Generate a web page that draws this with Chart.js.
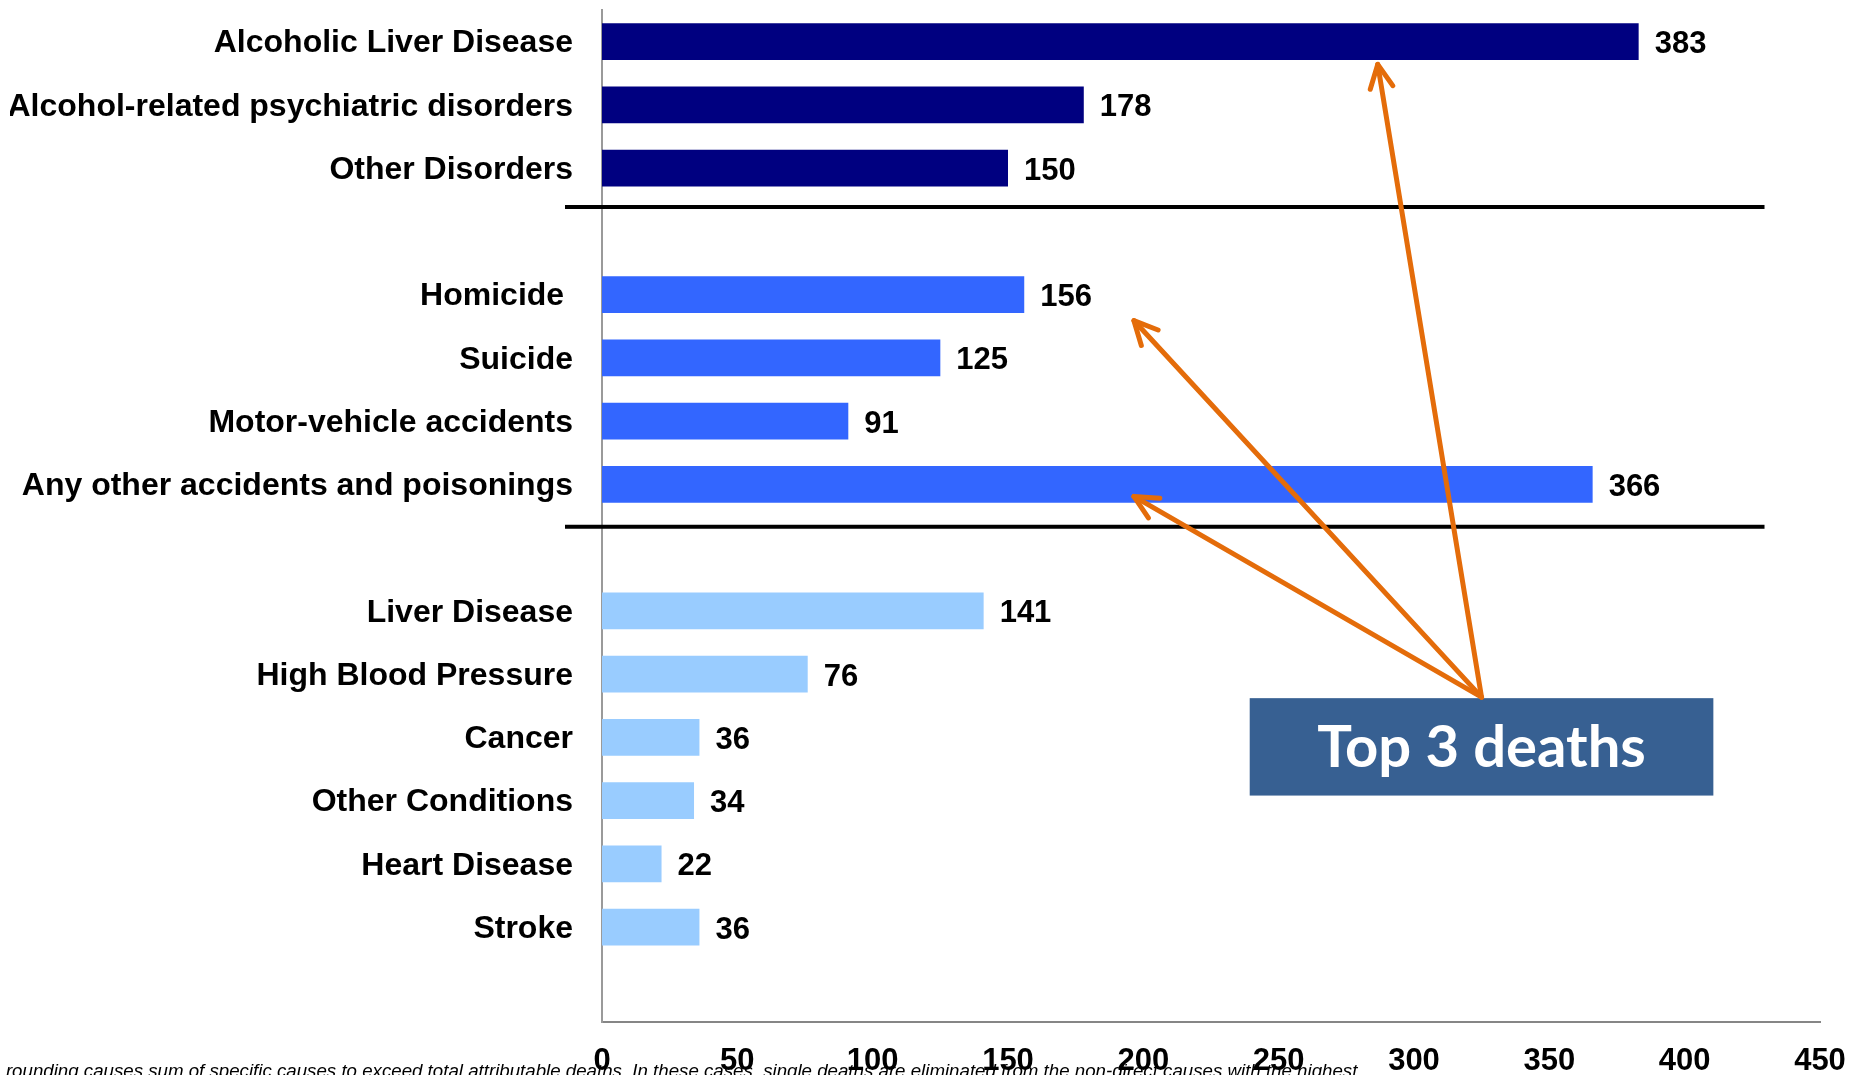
<!DOCTYPE html>
<html>
<head>
<meta charset="utf-8">
<script src="https://cdn.jsdelivr.net/npm/chart.js@4.4.1/dist/chart.umd.min.js"></script>
<style>
  html, body { margin: 0; padding: 0; background: #ffffff; overflow: hidden; }
  #wrap { position: relative; width: 1849px; height: 1075px; }
</style>
</head>
<body>
<div id="wrap"><canvas id="chart" width="1849" height="1075"></canvas></div>
<script>
// Causes of alcohol-attributable deaths, grouped (blank rows separate the groups)
const categories = [
  'Alcoholic Liver Disease',
  'Alcohol-related psychiatric disorders',
  'Other Disorders',
  '',
  'Homicide ',
  'Suicide',
  'Motor-vehicle accidents',
  'Any other accidents and poisonings',
  '',
  'Liver Disease',
  'High Blood Pressure',
  'Cancer',
  'Other Conditions',
  'Heart Disease',
  'Stroke',
  ''
];
const deaths = [383, 178, 150, null, 156, 125, 91, 366, null, 141, 76, 36, 34, 22, 36, null];
const groups = ['wholly', 'wholly', 'wholly', null,
                'injury', 'injury', 'injury', 'injury', null,
                'chronic', 'chronic', 'chronic', 'chronic', 'chronic', 'chronic', null];
const xTicks = [0, 50, 100, 150, 200, 250, 300, 350, 400, 450];

// Callout and the three causes it points at (x value, fractional row)
const calloutText = 'Top 3 deaths';
const calloutBox = { x0: 239.3, x1: 410.6, y0: 10.38, y1: 11.92 };
const arrowTips = [
  { x: 286.6, y: 0.36 },
  { x: 196.5, y: 4.41 },
  { x: 196.5, y: 7.19 }
];
// Rows (fractional) where the group separators are drawn
const separatorRows = [2.615, 7.67];
const separatorSpan = { x1: 429.5 };

const footnote = ', rounding causes sum of specific causes to exceed total attributable deaths. In these cases, single deaths are eliminated from the non-direct causes with the highest';

const palette = { wholly: '#000080', injury: '#3366FF', chronic: '#99CCFF' };
const FONT = '"Liberation Sans", Arial, Helvetica, sans-serif';

const valueLabels = {
  id: 'valueLabels',
  afterDatasetsDraw(chart) {
    const ctx = chart.ctx;
    const meta = chart.getDatasetMeta(0);
    ctx.save();
    ctx.font = 'bold 31px ' + FONT;
    ctx.fillStyle = '#000000';
    ctx.textAlign = 'left';
    ctx.textBaseline = 'middle';
    meta.data.forEach((bar, i) => {
      const v = deaths[i];
      if (v === null || v === undefined) return;
      ctx.fillText(String(v), bar.x + 16, bar.y + 3);
    });
    ctx.restore();
  }
};

function drawArrow(ctx, x0, y0, x1, y1) {
  const ang = Math.atan2(y0 - y1, x0 - x1);
  const wing = 26, spread = 26 * Math.PI / 180;
  ctx.beginPath();
  ctx.moveTo(x0, y0);
  ctx.lineTo(x1, y1);
  ctx.stroke();
  ctx.beginPath();
  ctx.moveTo(x1 + wing * Math.cos(ang - spread), y1 + wing * Math.sin(ang - spread));
  ctx.lineTo(x1, y1);
  ctx.lineTo(x1 + wing * Math.cos(ang + spread), y1 + wing * Math.sin(ang + spread));
  ctx.stroke();
}

const annotations = {
  id: 'annotations',
  afterDraw(chart) {
    const ctx = chart.ctx;
    const xs = chart.scales.x, ys = chart.scales.y;
    ctx.save();

    // group separators
    ctx.strokeStyle = '#000000';
    ctx.lineWidth = 4;
    separatorRows.forEach(r => {
      const y = ys.getPixelForValue(r);
      ctx.beginPath();
      ctx.moveTo(xs.left - 37, y);
      ctx.lineTo(xs.getPixelForValue(separatorSpan.x1), y);
      ctx.stroke();
    });

    // callout box
    const bx0 = xs.getPixelForValue(calloutBox.x0), bx1 = xs.getPixelForValue(calloutBox.x1);
    const by0 = ys.getPixelForValue(calloutBox.y0), by1 = ys.getPixelForValue(calloutBox.y1);
    ctx.fillStyle = '#376092';
    ctx.fillRect(bx0, by0, bx1 - bx0, by1 - by0);
    ctx.fillStyle = '#ffffff';
    ctx.font = 'bold 58px Lato, "Open Sans", sans-serif';
    ctx.textAlign = 'center';
    ctx.textBaseline = 'alphabetic';
    ctx.fillText(calloutText, (bx0 + bx1) / 2, (by0 + by1) / 2 + 20.5);

    // arrows from the callout to the top three causes
    ctx.strokeStyle = '#E46C0A';
    ctx.lineWidth = 5;
    ctx.lineCap = 'round';
    ctx.lineJoin = 'round';
    const sx = (bx0 + bx1) / 2, sy = by0 - 1;
    arrowTips.forEach(t => {
      drawArrow(ctx, sx, sy, xs.getPixelForValue(t.x), ys.getPixelForValue(t.y));
    });

    // footnote along the bottom edge
    ctx.fillStyle = '#000000';
    ctx.font = 'italic 18.7px ' + FONT;
    ctx.textAlign = 'left';
    ctx.textBaseline = 'alphabetic';
    ctx.fillText(footnote, -4.5, 1077);

    ctx.restore();
  }
};

new Chart(document.getElementById('chart'), {
  type: 'bar',
  data: {
    labels: categories,
    datasets: [{
      data: deaths,
      backgroundColor: groups.map(g => g ? palette[g] : 'rgba(0,0,0,0)'),
      borderWidth: 0,
      barPercentage: 0.58,
      categoryPercentage: 1.0
    }]
  },
  options: {
    indexAxis: 'y',
    responsive: false,
    animation: false,
    devicePixelRatio: 1,
    layout: { padding: { top: 10, left: 10, right: 29, bottom: 0 } },
    plugins: {
      legend: { display: false },
      tooltip: { enabled: false },
      title: { display: false }
    },
    scales: {
      x: {
        type: 'linear',
        min: 0,
        max: 450,
        afterBuildTicks(scale) { scale.ticks = xTicks.map(v => ({ value: v })); },
        afterFit(scale) { scale.paddingLeft = 0; scale.paddingRight = 0; scale.height = 53; },
        grid: { display: false, drawTicks: false },
        border: { display: true, color: '#868686', width: 2 },
        ticks: {
          color: '#000000',
          padding: 24,
          maxRotation: 0,
          font: { family: FONT, size: 31, weight: 'bold', lineHeight: 1 }
        }
      },
      y: {
        grid: { display: false, drawTicks: false },
        border: { display: true, color: '#9a9a9a', width: 2 },
        afterFit(scale) { scale.width = 592; scale.paddingTop = 0; scale.paddingBottom = 0; },
        ticks: {
          color: '#000000',
          padding: 29,
          labelOffset: 2,
          autoSkip: false,
          font: { family: FONT, size: 32, weight: 'bold', lineHeight: 1.2 }
        }
      }
    }
  },
  plugins: [valueLabels, annotations]
});
</script>
</body>
</html>
